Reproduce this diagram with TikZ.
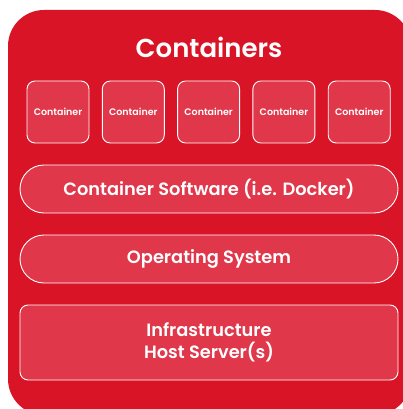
\documentclass[tikz,border=0pt]{standalone}
\usepackage{fontspec}
\setsansfont{Poppins}[BoldFont={Poppins SemiBold}]
\usetikzlibrary{positioning}
\definecolor{stackred}{RGB}{217,20,39}
\definecolor{layerred}{RGB}{224,55,75}

\begin{document}
\begin{tikzpicture}[x=1pt,y=-1pt,
    layer/.style={draw=white,line width=0.9pt,fill=layerred,text=white,
      font=\sffamily\bfseries,align=center,inner sep=0pt},
    slot/.style={layer,rounded corners=8pt,minimum width=62pt,minimum height=62pt,
      font=\sffamily\bfseries\fontsize{9.5}{11}\selectfont},
    pill/.style={layer,rounded corners=24pt,minimum width=378pt,minimum height=48pt,
      font=\sffamily\bfseries\fontsize{17.8}{22}\selectfont}]
      \clip (0,0) rectangle (403,409);
      % outer frame, runs off the right and bottom edges
      \fill[stackred,rounded corners=36pt] (8,10) rectangle (411,415);
      \node[text=white,font=\sffamily\bfseries\fontsize{26}{30}\selectfont] (title) at (209,47) {Containers};
      \foreach \i in {1,...,5}
        \node[slot] (box\i) at ({58+75.3*(\i-1)},112) {Container};
      \node[pill] (engine) at (209,189) {Container Software (i.e. Docker)};
      \node[pill] (os) at (209,259) {Operating System};
      \node[layer,rounded corners=8pt,minimum width=378pt,minimum height=75pt,
        font=\sffamily\bfseries\fontsize{17.8}{22}\selectfont] (infra) at (209,342.5) {Infrastructure\\Host Server(s)};
    \end{tikzpicture}
\end{document}
